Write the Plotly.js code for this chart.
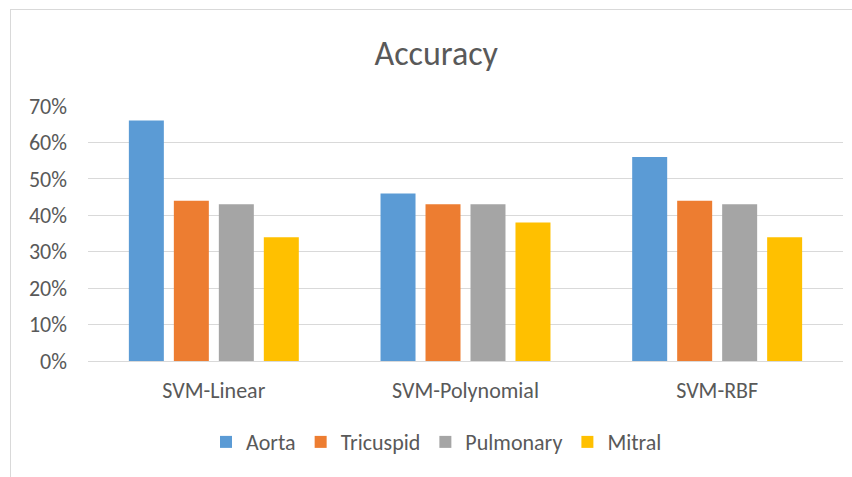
<!DOCTYPE html>
<html><head><meta charset="utf-8">
<script src="https://cdn.plot.ly/plotly-3.0.1.min.js"></script>
<style>
html,body{margin:0;padding:0;background:#fff;}
#wrap{position:relative;width:852px;height:477px;overflow:hidden;}
#chart{position:absolute;left:0;top:0;width:852px;height:477px;}
#frame{position:absolute;left:10px;top:9px;width:860px;height:480px;border-left:1px solid #d9d9d9;border-top:1px solid #d9d9d9;pointer-events:none;}
</style></head>
<body>
<div id="wrap"><div id="chart"></div><div id="frame"></div></div>
<script>
const categories = ["SVM-Linear", "SVM-Polynomial", "SVM-RBF"];
const aorta = [0.66, 0.46, 0.56];
const tricuspid = [0.44, 0.43, 0.44];
const pulmonary = [0.43, 0.43, 0.43];
const mitral = [0.34, 0.38, 0.34];
const seriesNames = ["Aorta", "Tricuspid", "Pulmonary", "Mitral"];
const seriesColors = ["#5b9bd5", "#ed7d31", "#a5a5a5", "#ffc000"];
const tickVals = [0, 0.1, 0.2, 0.3, 0.4, 0.5, 0.6, 0.7];
const tickText = ["0%", "10%", "20%", "30%", "40%", "50%", "60%", "70%"];

const font = "Carlito, Lato, 'Open Sans', sans-serif";
const allVals = [aorta, tricuspid, pulmonary, mitral];
const traces = allVals.map((v, i) => ({
  type: "bar", x: categories, y: v, name: seriesNames[i],
  marker: {color: seriesColors[i]}, hoverinfo: "none"
}));

Plotly.newPlot("chart", traces, {
  width: 852, height: 477,
  margin: {l: 88, r: 9, t: 106, b: 116},
  paper_bgcolor: "#fff", plot_bgcolor: "#fff",
  barmode: "group", bargap: 0.285, bargroupgap: 0.222,
  title: {text: "Accuracy", xref: "container", x: 0.512, xanchor: "center", y: 0.888, yanchor: "middle",
          font: {family: font, size: 34, weight: 300, color: "#595959"}},
  xaxis: {showgrid: false, showline: true, linecolor: "#d9d9d9", linewidth: 1,
          ticks: "", ticklabelstandoff: 10,
          tickfont: {family: font, size: 22, color: "#595959"}, fixedrange: true},
  yaxis: {range: [0, 0.7], tickvals: tickVals, ticktext: tickText, showgrid: true,
          gridcolor: "#d9d9d9", gridwidth: 1, zeroline: false, showline: false, ticks: "",
          ticklabelstandoff: 20,
          tickfont: {family: font, size: 22, color: "#595959"}, fixedrange: true},
  showlegend: true,
  legend: {orientation: "h", x: 0.4616, xanchor: "center", y: -0.318, yanchor: "middle",
           font: {family: font, size: 22, color: "#595959"}, traceorder: "normal",
           itemwidth: 30, bgcolor: "rgba(0,0,0,0)"}
}, {staticPlot: true});
</script>
</body></html>
